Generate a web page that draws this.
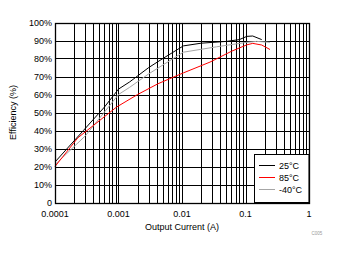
<!DOCTYPE html>
<meta charset="utf-8" />
<style>
  body { margin: 0; background: #fff; }
  text { font-family: Arial, "Liberation Sans", sans-serif; }
  .grid line { stroke: #000; stroke-width: 1; shape-rendering: crispEdges; }
  .curve { fill: none; stroke-width: 1; }
</style>
<body>
  <div id="chart"></div>
  <script src="https://cdn.jsdelivr.net/npm/d3@7"></script>
  <script>
    // data (current in A, efficiency in %)
    const current25 = [0.0001, 0.00028, 0.0006, 0.001, 0.0015, 0.003, 0.005, 0.0105, 0.02, 0.05, 0.08, 0.105, 0.13, 0.18];
    const eff25 = [22.5, 40, 53, 63, 67, 75, 80, 87, 88.5, 89.5, 90.5, 92.3, 92.5, 90.5];
    const current85 = [0.0001, 0.00023, 0.00093, 0.002, 0.0042, 0.0105, 0.0276, 0.06, 0.105, 0.13, 0.18, 0.243];
    const eff85 = [20, 36, 53, 60, 66, 72, 78, 84, 87.6, 88.4, 87.5, 85];
    const currentM40 = [0.0001, 0.0003, 0.001, 0.0015, 0.003, 0.0105, 0.035, 0.105, 0.15, 0.243];
    const effM40 = [21, 37, 60, 64, 71.5, 83.5, 86.5, 89, 89.5, 89];

    const seriesNames = ["25°C", "85°C", "-40°C"];
    const seriesColors = ["#000000", "#ff0000", "#a6a6a6"];
    const xTicks = [0.0001, 0.001, 0.01, 0.1, 1];
    const xTickLabels = ["0.0001", "0.001", "0.01", "0.1", "1"];
    const yTicks = [0, 10, 20, 30, 40, 50, 60, 70, 80, 90, 100];
    const yTickLabels = ["0", "10%", "20%", "30%", "40%", "50%", "60%", "70%", "80%", "90%", "100%"];

    const width = 338;
    const height = 254;
    const margin = { left: 55, right: 29, top: 22.5, bottom: 51.5 };

    const svg = d3
      .select("#chart")
      .append("svg")
      .attr("width", width)
      .attr("height", height);

    const x = d3
      .scaleLog()
      .domain([0.0001, 1])
      .range([margin.left, width - margin.right]);
    const y = d3
      .scaleLinear()
      .domain([0, 100])
      .range([height - margin.bottom, margin.top]);

    // minor + major vertical grid lines
    const xGrid = [];
    for (let e = -4; e < 0; e++) {
      for (let m = 1; m < 10; m++) xGrid.push(m * Math.pow(10, e));
    }
    xGrid.push(1);

    const grid = svg.append("g").attr("class", "grid");
    grid
      .selectAll(".v")
      .data(xGrid)
      .enter()
      .append("line")
      .attr("x1", (d) => Math.round(x(d)) + 0.5)
      .attr("x2", (d) => Math.round(x(d)) + 0.5)
      .attr("y1", y(0))
      .attr("y2", y(100));
    grid
      .selectAll(".h")
      .data(yTicks)
      .enter()
      .append("line")
      .attr("x1", x(0.0001))
      .attr("x2", x(1))
      .attr("y1", (d) => Math.round(y(d)) + 0.5)
      .attr("y2", (d) => Math.round(y(d)) + 0.5);

    const line = d3
      .line()
      .x((d) => x(d[0]))
      .y((d) => y(d[1]));

    const series = [
      d3.zip(current25, eff25),
      d3.zip(current85, eff85),
      d3.zip(currentM40, effM40),
    ];

    // draw grey first so black and red sit on top
    [2, 1, 0].forEach((i) => {
      svg
        .append("path")
        .datum(series[i])
        .attr("class", "curve")
        .attr("stroke", seriesColors[i])
        .attr("d", line);
    });

    // y tick labels
    svg
      .append("g")
      .selectAll("text")
      .data(yTicks)
      .enter()
      .append("text")
      .attr("x", margin.left - 3)
      .attr("y", (d) => y(d))
      .attr("dy", "0.35em")
      .attr("text-anchor", "end")
      .attr("font-size", 9)
      .attr("fill", "#000")
      .text((d, i) => yTickLabels[i]);

    // x tick labels
    svg
      .append("g")
      .selectAll("text")
      .data(xTicks)
      .enter()
      .append("text")
      .attr("x", (d) => x(d))
      .attr("y", y(0) + 14)
      .attr("text-anchor", "middle")
      .attr("font-size", 9)
      .attr("fill", "#000")
      .text((d, i) => xTickLabels[i]);

    svg
      .append("text")
      .attr("x", (x(0.0001) + x(1)) / 2)
      .attr("y", y(0) + 27)
      .attr("text-anchor", "middle")
      .attr("font-size", 9)
      .text("Output Current (A)");

    svg
      .append("text")
      .attr("transform", `translate(16,${(y(0) + y(100)) / 2}) rotate(-90)`)
      .attr("text-anchor", "middle")
      .attr("font-size", 9)
      .text("Efficiency (%)");

    svg
      .append("text")
      .attr("x", 317)
      .attr("y", 235)
      .attr("text-anchor", "middle")
      .attr("font-size", 4.5)
      .attr("fill", "#999")
      .text("C005");

    // legend
    const legend = svg.append("g");
    legend
      .append("rect")
      .attr("x", 254.5)
      .attr("y", 154.5)
      .attr("width", x(1) - 254.5)
      .attr("height", y(0) - 154.5)
      .attr("fill", "#fff")
      .attr("stroke", "#000");
    seriesNames.forEach((name, i) => {
      const ly = 165.5 + i * 12;
      legend
        .append("line")
        .attr("x1", 259)
        .attr("x2", 275)
        .attr("y1", ly)
        .attr("y2", ly)
        .attr("stroke", seriesColors[i]);
      legend
        .append("text")
        .attr("x", 279)
        .attr("y", ly)
        .attr("dy", "0.35em")
        .attr("font-size", 9)
        .text(name);
    });

    // plot frame
    svg
      .append("rect")
      .attr("x", Math.round(x(0.0001)) + 0.5)
      .attr("y", Math.round(y(100)) + 0.5)
      .attr("width", Math.round(x(1)) - Math.round(x(0.0001)))
      .attr("height", Math.round(y(0)) - Math.round(y(100)))
      .attr("fill", "none")
      .attr("stroke", "#000")
      .attr("stroke-width", 1.3);
  </script>
</body>
